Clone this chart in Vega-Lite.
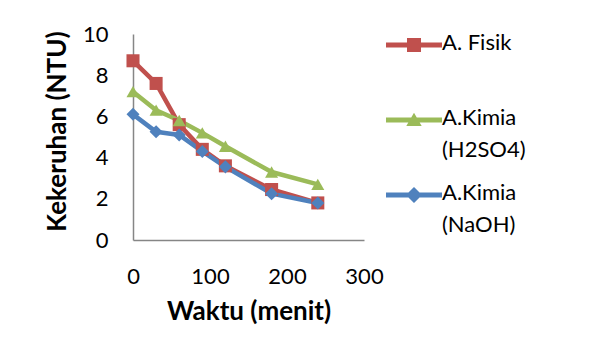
{
  "$schema": "https://vega.github.io/schema/vega-lite/v6.json",
  "width": 231,
  "height": 206,
  "autosize": {"type": "none"},
  "padding": {"left": 133, "top": 34, "right": 229, "bottom": 121},
  "background": "white",
  "config": {
    "view": {"stroke": null},
    "font": "Lato",
    "axis": {
      "domainColor": "#868686",
      "domainWidth": 1.5,
      "grid": false,
      "ticks": false,
      "labelFlush": false,
      "labelFont": "Lato",
      "labelFontSize": 22,
      "labelColor": "#000000",
      "titleFont": "Lato",
      "titleFontSize": 26,
      "titleFontWeight": "bold",
      "titleColor": "#000000"
    }
  },
  "data": {
    "values": [
      {"waktu": 0, "kekeruhan": 8.7, "seri": "A. Fisik"},
      {"waktu": 30, "kekeruhan": 7.6, "seri": "A. Fisik"},
      {"waktu": 60, "kekeruhan": 5.6, "seri": "A. Fisik"},
      {"waktu": 90, "kekeruhan": 4.4, "seri": "A. Fisik"},
      {"waktu": 120, "kekeruhan": 3.6, "seri": "A. Fisik"},
      {"waktu": 180, "kekeruhan": 2.45, "seri": "A. Fisik"},
      {"waktu": 240, "kekeruhan": 1.8, "seri": "A. Fisik"},
      {"waktu": 0, "kekeruhan": 7.2, "seri": "A.Kimia (H2SO4)"},
      {"waktu": 30, "kekeruhan": 6.3, "seri": "A.Kimia (H2SO4)"},
      {"waktu": 60, "kekeruhan": 5.8, "seri": "A.Kimia (H2SO4)"},
      {"waktu": 90, "kekeruhan": 5.2, "seri": "A.Kimia (H2SO4)"},
      {"waktu": 120, "kekeruhan": 4.55, "seri": "A.Kimia (H2SO4)"},
      {"waktu": 180, "kekeruhan": 3.3, "seri": "A.Kimia (H2SO4)"},
      {"waktu": 240, "kekeruhan": 2.7, "seri": "A.Kimia (H2SO4)"},
      {"waktu": 0, "kekeruhan": 6.1, "seri": "A.Kimia (NaOH)"},
      {"waktu": 30, "kekeruhan": 5.25, "seri": "A.Kimia (NaOH)"},
      {"waktu": 60, "kekeruhan": 5.1, "seri": "A.Kimia (NaOH)"},
      {"waktu": 90, "kekeruhan": 4.3, "seri": "A.Kimia (NaOH)"},
      {"waktu": 120, "kekeruhan": 3.55, "seri": "A.Kimia (NaOH)"},
      {"waktu": 180, "kekeruhan": 2.25, "seri": "A.Kimia (NaOH)"},
      {"waktu": 240, "kekeruhan": 1.8, "seri": "A.Kimia (NaOH)"}
    ]
  },
  "encoding": {
    "x": {
      "field": "waktu",
      "type": "quantitative",
      "scale": {"domain": [0, 300], "nice": false, "zero": true},
      "axis": {"values": [0, 100, 200, 300], "labelPadding": 26, "titlePadding": 11, "title": "Waktu (menit)"}
    },
    "y": {
      "field": "kekeruhan",
      "type": "quantitative",
      "scale": {"domain": [0, 10], "nice": false},
      "axis": {"values": [0, 2, 4, 6, 8, 10], "labelPadding": 25, "titlePadding": 12, "titleY": 97, "title": "Kekeruhan (NTU)"}
    },
    "color": {
      "field": "seri",
      "type": "nominal",
      "scale": {
        "domain": ["A. Fisik", "A.Kimia (H2SO4)", "A.Kimia (NaOH)"],
        "range": ["#C0504D", "#9BBB59", "#4F81BD"]
      },
      "legend": {
        "orient": "none",
        "legendX": 270,
        "legendY": 0,
        "title": null,
        "padding": 0,
        "gridAlign": "all",
        "labelFont": "Lato",
        "labelFontSize": 22,
        "labelColor": "#000000",
        "labelOffset": 17,
        "symbolSize": 196,
        "rowPadding": 21,
        "labelLimit": 300,
        "labelExpr": "datum.label == 'A. Fisik' ? 'A. Fisik' : split(datum.label, ' ')",
        "encode": {
          "symbols": {
            "update": {
              "shape": {"signal": "datum.value == 'A. Fisik' ? 'M-4,-0.34H4V0.34H-4Z M-1,-1H1V1H-1Z' : datum.value == 'A.Kimia (H2SO4)' ? 'M-4,-0.34H4V0.34H-4Z M0,-1.05L1.1,0.85H-1.1Z' : 'M-4,-0.34H4V0.34H-4Z M0,-1.15L1.15,0L0,1.15L-1.15,0Z'"},
              "fill": {"signal": "datum.value == 'A. Fisik' ? '#C0504D' : datum.value == 'A.Kimia (H2SO4)' ? '#9BBB59' : '#4F81BD'"},
              "fillOpacity": {"value": 1},
              "strokeWidth": {"value": 0},
              "opacity": {"value": 1}
            }
          },
          "labels": {
            "update": {
              "lineHeight": {"value": 32},
              "baseline": {"value": "top"},
              "dy": {"value": -12}
            }
          }
        }
      }
    }
  },
  "layer": [
    {
      "mark": {"type": "line", "strokeWidth": 4.5, "strokeJoin": "round", "strokeCap": "round"}
    },
    {
      "transform": [{"calculate": "datum.seri", "as": "penanda"}],
      "mark": {"type": "point", "filled": true, "opacity": 1, "size": 170, "strokeWidth": 0},
      "encoding": {
        "shape": {
          "field": "penanda",
          "type": "nominal",
          "scale": {"range": ["square", "triangle-up", "diamond"]},
          "legend": null
        }
      }
    }
  ]
}
